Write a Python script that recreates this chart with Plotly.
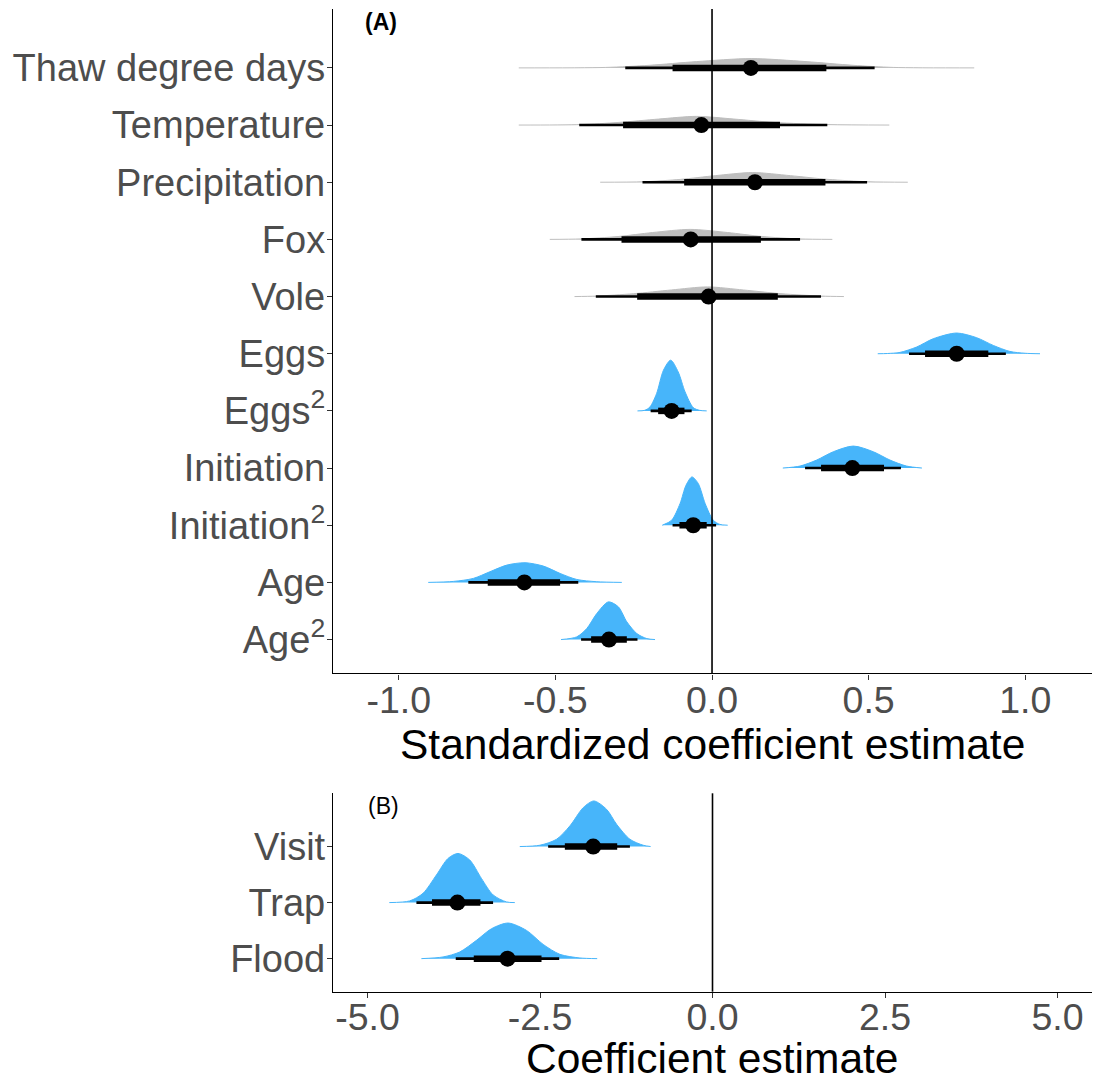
import plotly.graph_objects as go

# ---------------- Panel A: standardized coefficients ----------------
terms_a = ["Thaw degree days", "Temperature", "Precipitation", "Fox", "Vole",
           "Eggs", "Eggs<sup>2</sup>", "Initiation", "Initiation<sup>2</sup>",
           "Age", "Age<sup>2</sup>"]
signif_a = [False, False, False, False, False, True, True, True, True, True, True]

median_a = [0.124, -0.034, 0.137, -0.068, -0.011, 0.781, -0.129, 0.448, -0.060, -0.599, -0.329]
lo66_a = [-0.126, -0.284, -0.089, -0.289, -0.239, 0.680, -0.172, 0.348, -0.104, -0.716, -0.386]
hi66_a = [0.365, 0.217, 0.362, 0.156, 0.210, 0.882, -0.088, 0.549, -0.017, -0.485, -0.272]
lo95_a = [-0.277, -0.424, -0.222, -0.417, -0.371, 0.629, -0.196, 0.297, -0.126, -0.778, -0.418]
hi95_a = [0.519, 0.368, 0.495, 0.281, 0.348, 0.938, -0.065, 0.603, 0.013, -0.427, -0.238]

# posterior density outlines (x value, height in category units)
dens_x_a = [
    [-0.617, -0.34, -0.20, -0.05, 0.125, 0.30, 0.45, 0.58, 0.837],
    [-0.617, -0.42, -0.30, -0.17, -0.05, 0.07, 0.20, 0.37, 0.566],
    [-0.357, -0.22, -0.10, 0.01, 0.13, 0.25, 0.37, 0.50, 0.625],
    [-0.518, -0.42, -0.30, -0.19, -0.07, 0.05, 0.16, 0.28, 0.384],
    [-0.439, -0.37, -0.25, -0.13, -0.015, 0.10, 0.22, 0.35, 0.421],
    [0.529, 0.56, 0.600, 0.653, 0.706, 0.781, 0.845, 0.898, 0.951, 1.0, 1.047],
    [-0.238, -0.215, -0.198, -0.177, -0.155, -0.132, -0.108, -0.086, -0.06, -0.04, -0.017],
    [0.226, 0.281, 0.334, 0.387, 0.451, 0.515, 0.568, 0.621, 0.670],
    [-0.159, -0.129, -0.102, -0.083, -0.064, -0.044, -0.022, 0.004, 0.025, 0.05],
    [-0.906, -0.826, -0.762, -0.709, -0.655, -0.597, -0.538, -0.485, -0.432, -0.368, -0.288],
    [-0.482, -0.432, -0.4, -0.368, -0.331, -0.299, -0.272, -0.24, -0.208, -0.182],
]
dens_h_a = [
    [0, 0.008, 0.045, 0.11, 0.163, 0.11, 0.045, 0.008, 0],
    [0, 0.008, 0.045, 0.105, 0.152, 0.105, 0.045, 0.008, 0],
    [0, 0.008, 0.05, 0.115, 0.169, 0.115, 0.05, 0.008, 0],
    [0, 0.008, 0.05, 0.12, 0.175, 0.12, 0.05, 0.008, 0],
    [0, 0.008, 0.05, 0.115, 0.169, 0.115, 0.05, 0.008, 0],
    [0, 0.004, 0.023, 0.117, 0.262, 0.362, 0.28, 0.145, 0.04, 0.008, 0],
    [0, 0.01, 0.07, 0.303, 0.712, 0.887, 0.682, 0.332, 0.058, 0.01, 0],
    [0, 0.035, 0.14, 0.285, 0.385, 0.285, 0.14, 0.035, 0],
    [0, 0.087, 0.38, 0.70, 0.845, 0.73, 0.38, 0.087, 0.015, 0],
    [0, 0.017, 0.07, 0.187, 0.303, 0.344, 0.285, 0.157, 0.052, 0.012, 0],
    [0, 0.047, 0.192, 0.455, 0.659, 0.572, 0.31, 0.105, 0.017, 0],
]

# ---------------- Panel B: detection coefficients ----------------
terms_b = ["Visit", "Trap", "Flood"]
signif_b = [True, True, True]
median_b = [-1.729, -3.697, -2.971]
lo66_b = [-2.140, -4.065, -3.460]
hi66_b = [-1.381, -3.363, -2.478]
lo95_b = [-2.382, -4.291, -3.721]
hi95_b = [-1.197, -3.180, -2.222]
dens_x_b = [
    [-2.793, -2.503, -2.26, -2.067, -1.874, -1.719, -1.535, -1.39, -1.197, -1.004, -0.897],
    [-4.684, -4.389, -4.196, -4.001, -3.833, -3.688, -3.518, -3.349, -3.18, -2.986, -2.865],
    [-4.219, -3.905, -3.663, -3.421, -3.203, -2.962, -2.696, -2.454, -2.212, -1.922, -1.671],
]
dens_h_b = [
    [0, 0.023, 0.13, 0.368, 0.694, 0.813, 0.664, 0.397, 0.13, 0.023, 0],
    [0, 0.03, 0.165, 0.493, 0.788, 0.877, 0.76, 0.432, 0.137, 0.012, 0],
    [0, 0.03, 0.119, 0.326, 0.534, 0.635, 0.504, 0.254, 0.077, 0.012, 0],
]

BLUE = "#47B5FA"
GREY = "#BEBEBE"
FONT = "Liberation Sans, Arial, sans-serif"
W, H = 1094, 1082

fig = go.Figure()


def add_panel(terms, signif, med, l66, h66, l95, h95, dx, dh, xa, ya):
    n = len(terms)
    pos = [n - 1 - i for i in range(n)]  # first term at the top
    for i in range(n):
        col = BLUE if signif[i] else GREY
        base = [pos[i]] * len(dx[i])
        fig.add_trace(go.Scatter(x=dx[i], y=base, mode="lines", line=dict(width=0),
                                 hoverinfo="skip", xaxis=xa, yaxis=ya))
        fig.add_trace(go.Scatter(x=dx[i], y=[pos[i] + h for h in dh[i]], mode="lines",
                                 fill="tonexty", fillcolor=col,
                                 line=dict(color=col, width=1, shape="spline", smoothing=0.8),
                                 hoverinfo="skip", xaxis=xa, yaxis=ya))
    # 95% intervals (thin), 66% intervals (thick)
    tx, ty, kx, ky = [], [], [], []
    for i in range(n):
        tx += [l95[i], h95[i], None]
        ty += [pos[i], pos[i], None]
        kx += [l66[i], h66[i], None]
        ky += [pos[i], pos[i], None]
    fig.add_trace(go.Scatter(x=tx, y=ty, mode="lines", line=dict(color="black", width=2.6),
                             xaxis=xa, yaxis=ya, hoverinfo="skip"))
    fig.add_trace(go.Scatter(x=kx, y=ky, mode="lines", line=dict(color="black", width=6.5),
                             xaxis=xa, yaxis=ya, hoverinfo="skip"))
    fig.add_trace(go.Scatter(x=med, y=pos, mode="markers",
                             marker=dict(color="black", size=16, line=dict(width=0)),
                             xaxis=xa, yaxis=ya, hoverinfo="skip"))
    return pos


pos_a = add_panel(terms_a, signif_a, median_a, lo66_a, hi66_a, lo95_a, hi95_a,
                  dens_x_a, dens_h_a, "x", "y")
pos_b = add_panel(terms_b, signif_b, median_b, lo66_b, hi66_b, lo95_b, hi95_b,
                  dens_x_b, dens_h_b, "x2", "y2")

axis_style = dict(showline=True, linecolor="black", linewidth=1.4, ticks="outside",
                  ticklen=5, tickwidth=1.3, tickcolor="#333333", showgrid=False,
                  zeroline=False)
xtick_font = dict(size=37.5, color="#4D4D4D", family=FONT)
ytick_font = dict(size=38, color="#4D4D4D", family=FONT)


def label(text, px, py, size):
    return dict(text=text, x=px / W, y=1 - py / H, xref="paper", yref="paper",
                xanchor="center", yanchor="middle", showarrow=False, borderpad=0,
                font=dict(size=size, color="black", family=FONT))


xdom = [333 / W, 1092 / W]
fig.update_layout(
    width=W, height=H, margin=dict(l=0, r=0, t=0, b=0),
    paper_bgcolor="white", plot_bgcolor="white", showlegend=False,
    font=dict(family=FONT),
    xaxis=dict(domain=xdom, range=[-1.21, 1.213], anchor="y",
               tickvals=[-1, -0.5, 0, 0.5, 1], ticktext=["-1.0", "-0.5", "0.0", "0.5", "1.0"],
               tickfont=xtick_font, ticklabelstandoff=-12, **axis_style),
    yaxis=dict(domain=[1 - 673.3 / H, 1 - 9 / H], range=[-0.59, 11.03], anchor="x",
               tickvals=pos_a, ticktext=terms_a, tickfont=ytick_font,
               ticklabelstandoff=-6, **axis_style),
    xaxis2=dict(domain=xdom, range=[-5.5, 5.5], anchor="y2",
                tickvals=[-5, -2.5, 0, 2.5, 5], ticktext=["-5.0", "-2.5", "0.0", "2.5", "5.0"],
                tickfont=xtick_font, ticklabelstandoff=-13, **axis_style),
    yaxis2=dict(domain=[1 - 991.7 / H, 1 - 793.3 / H], range=[-0.59, 2.95], anchor="x2",
                tickvals=pos_b, ticktext=terms_b, tickfont=ytick_font,
                ticklabelstandoff=-6, **axis_style),
    shapes=[
        dict(type="line", xref="x", yref="y domain", x0=0, x1=0, y0=0, y1=1,
             line=dict(color="black", width=1.6), layer="above"),
        dict(type="line", xref="x2", yref="y2 domain", x0=0, x1=0, y0=0, y1=1,
             line=dict(color="black", width=1.6), layer="above"),
    ],
    annotations=[
        label("<b>(A)</b>", 381, 22, 23),
        label("(B)", 383, 806, 23),
        label("Standardized coefficient estimate", 712, 744, 42.5),
        label("Coefficient estimate", 712, 1058, 42.5),
    ],
)

fig.write_html("out.html")
